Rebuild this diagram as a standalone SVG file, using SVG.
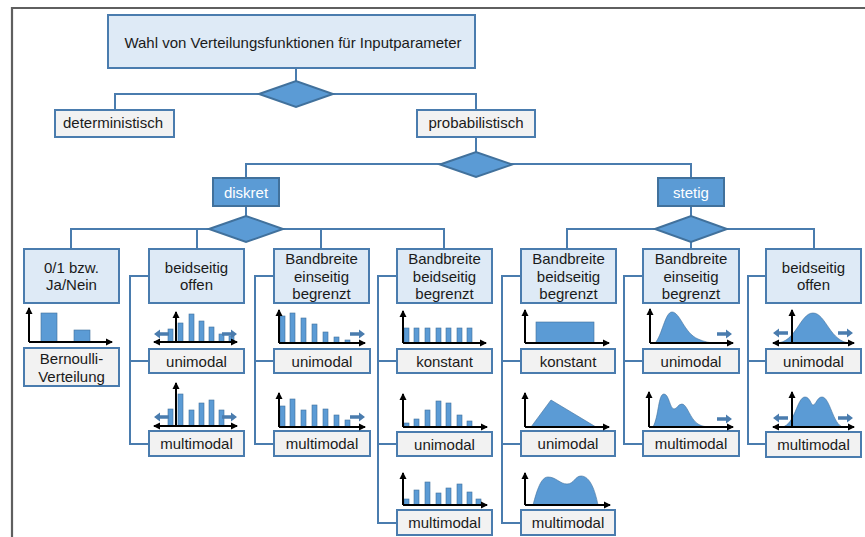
<svg xmlns="http://www.w3.org/2000/svg" xmlns:xlink="http://www.w3.org/1999/xlink" width="865" height="537" viewBox="0 0 865 537">
<style>
.box{fill:#deeaf6;stroke:#4a7cae;stroke-width:2}
.gbox{fill:#f2f2f2;stroke:#4a7cae;stroke-width:2}
.dark{fill:#5b9bd5;stroke:#41719c;stroke-width:2}
.conn{fill:none;stroke:#4a7cae;stroke-width:2}
.bar{fill:#5b9bd5;stroke:#41719c;stroke-width:0.6}
.area{fill:#5b9bd5;stroke:#41719c;stroke-width:0.6}
.ax{fill:none;stroke:#000;stroke-width:2;marker-end:url(#ah)}
.ax2{fill:none;stroke:#000;stroke-width:2;marker-end:url(#ah);marker-start:url(#ah)}
text{font-family:"Liberation Sans",Arial,sans-serif;font-size:15px;fill:#1a1a1a;text-anchor:middle}
.w{fill:#fff}
.barr{fill:#4a7cae}
</style>
<defs>
<marker id="ah" markerUnits="userSpaceOnUse" markerWidth="8" markerHeight="8" refX="6" refY="4" orient="auto-start-reverse"><path d="M0,0.5 L7,4 L0,7.5 z" fill="#000"/></marker>
<path id="ra" d="M0,-1.8 L9,-1.8 L9,-4.5 L15,0 L9,4.5 L9,1.8 L0,1.8 z" class="barr"/>
</defs>
<!-- frame -->
<path d="M12,537 L12,8 L865,8" fill="none" stroke="#5f5f5f" stroke-width="2.2"/>

<g id="connectors">
<path class="conn" d="M296,68 V81 M115,110 V94 H476 V110 M476,137 V152 M246,178 V164 H691 V178 M246,206 V216 M691,206 V216"/>
<path class="conn" d="M71,249 V229 H444 V249 M197,229 V249 M321,229 V249"/>
<path class="conn" d="M567,249 V229 H814 V249 M691,229 V249"/>
<path class="conn" d="M149,276 H130 V444 H149 M130,361 H149"/>
<path class="conn" d="M274,276 H255 V444 H274 M255,361 H274"/>
<path class="conn" d="M397,276 H378 V523 H397 M378,361 H397 M378,444 H397"/>
<path class="conn" d="M521,276 H502 V523 H521 M502,361 H521 M502,444 H521"/>
<path class="conn" d="M643,276 H624 V444 H643 M624,361 H643"/>
<path class="conn" d="M766,276 H748 V444 H766 M748,361 H766"/>
</g>

<g id="root"><rect class="box" x="108" y="15" width="367" height="53"/><text x="293" y="48">Wahl von Verteilungsfunktionen für Inputparameter</text></g>
<g id="d1"><polygon class="dark" points="259,94 296,81 333,94 296,107"/></g>
<g id="deterministisch"><rect class="gbox" x="55" y="110" width="119" height="27"/><text x="113" y="128">deterministisch</text></g>
<g id="probabilistisch"><rect class="gbox" x="417" y="110" width="118" height="27"/><text x="476" y="128">probabilistisch</text></g>
<g id="d2"><polygon class="dark" points="440,164.5 476,152 512,164.5 476,177"/></g>
<g id="diskret"><rect class="dark" x="213" y="178" width="66" height="28"/><text class="w" x="246" y="198">diskret</text></g>
<g id="stetig"><rect class="dark" x="658" y="178" width="66" height="28"/><text class="w" x="691" y="198">stetig</text></g>
<g id="d3"><polygon class="dark" points="209,229 246,216 283,229 246,242"/></g>
<g id="d4"><polygon class="dark" points="655,229 691,216 727,229 691,242"/></g>

<g id="n01"><rect class="box" x="24" y="249" width="95" height="54"/><text x="71.5" y="273">0/1 bzw.</text><text x="71.5" y="290">Ja/Nein</text></g>
<g id="nDoffen"><rect class="box" x="149" y="249" width="95" height="54"/><text x="196.5" y="273">beidseitig</text><text x="196.5" y="290">offen</text></g>
<g id="nDein"><rect class="box" x="274" y="249" width="95" height="54"/><text x="321.5" y="264">Bandbreite</text><text x="321.5" y="281.5">einseitig</text><text x="321.5" y="299">begrenzt</text></g>
<g id="nDbeid"><rect class="box" x="397" y="249" width="95" height="54"/><text x="444.5" y="264">Bandbreite</text><text x="444.5" y="281.5">beidseitig</text><text x="444.5" y="299">begrenzt</text></g>
<g id="nSbeid"><rect class="box" x="521" y="249" width="95" height="54"/><text x="568.5" y="264">Bandbreite</text><text x="568.5" y="281.5">beidseitig</text><text x="568.5" y="299">begrenzt</text></g>
<g id="nSein"><rect class="box" x="643" y="249" width="96" height="54"/><text x="691" y="264">Bandbreite</text><text x="691" y="281.5">einseitig</text><text x="691" y="299">begrenzt</text></g>
<g id="nSoffen"><rect class="box" x="766" y="249" width="95" height="54"/><text x="813.5" y="273">beidseitig</text><text x="813.5" y="290">offen</text></g>

<g id="bernoulli"><rect class="gbox" x="24" y="348" width="95" height="38"/><text x="71.5" y="364">Bernoulli-</text><text x="71.5" y="382">Verteilung</text></g>
<g id="dOffenUni"><rect class="gbox" x="149" y="349" width="95" height="24"/><text x="196.5" y="367">unimodal</text></g>
<g id="dOffenMulti"><rect class="gbox" x="149" y="431" width="95" height="25"/><text x="196.5" y="449">multimodal</text></g>
<g id="dEinUni"><rect class="gbox" x="274" y="349" width="96" height="24"/><text x="322" y="367">unimodal</text></g>
<g id="dEinMulti"><rect class="gbox" x="274" y="431" width="96" height="25"/><text x="322" y="449">multimodal</text></g>
<g id="dBeidKonst"><rect class="gbox" x="397" y="349" width="95" height="24"/><text x="444.5" y="367">konstant</text></g>
<g id="dBeidUni"><rect class="gbox" x="397" y="432" width="95" height="24"/><text x="444.5" y="450">unimodal</text></g>
<g id="dBeidMulti"><rect class="gbox" x="397" y="510" width="95" height="25"/><text x="444.5" y="528">multimodal</text></g>
<g id="sBeidKonst"><rect class="gbox" x="521" y="349" width="94" height="24"/><text x="568" y="367">konstant</text></g>
<g id="sBeidUni"><rect class="gbox" x="521" y="431" width="94" height="25"/><text x="568" y="449">unimodal</text></g>
<g id="sBeidMulti"><rect class="gbox" x="521" y="510" width="94" height="25"/><text x="568" y="528">multimodal</text></g>
<g id="sEinUni"><rect class="gbox" x="643" y="349" width="96" height="24"/><text x="691" y="367">unimodal</text></g>
<g id="sEinMulti"><rect class="gbox" x="643" y="431" width="96" height="25"/><text x="691" y="449">multimodal</text></g>
<g id="sOffenUni"><rect class="gbox" x="766" y="349" width="95" height="24"/><text x="813.5" y="367">unimodal</text></g>
<g id="sOffenMulti"><rect class="gbox" x="766" y="432" width="95" height="25"/><text x="813.5" y="450">multimodal</text></g>

<!-- charts -->
<g id="cBernoulli">
<rect class="bar" x="41" y="313" width="16" height="29"/><rect class="bar" x="74" y="330" width="16" height="12"/>
<path class="ax" d="M29,342 V308"/><path class="ax" d="M29,342 H112"/>
</g>
<g id="cDOffenUni">
<rect class="bar" x="168" y="329" width="5" height="13"/><rect class="bar" x="178" y="323" width="5" height="19"/><rect class="bar" x="189" y="314" width="5" height="28"/><rect class="bar" x="199" y="321" width="5" height="21"/><rect class="bar" x="209" y="327" width="5" height="15"/><rect class="bar" x="219" y="334" width="5" height="8"/><rect class="bar" x="229" y="336" width="5" height="6"/>
<use xlink:href="#ra" transform="translate(169,334) scale(-1,1)"/><use xlink:href="#ra" x="222" y="334"/>
<path class="ax2" d="M154,342 H237"/><path class="ax" d="M176,342 V312"/>
</g>
<g id="cDOffenMulti">
<rect class="bar" x="168" y="409" width="5" height="17"/><rect class="bar" x="178" y="394" width="5" height="32"/><rect class="bar" x="189" y="410" width="5" height="16"/><rect class="bar" x="199" y="403" width="5" height="23"/><rect class="bar" x="209" y="400" width="5" height="26"/><rect class="bar" x="219" y="410" width="5" height="16"/>
<use xlink:href="#ra" transform="translate(169,417) scale(-1,1)"/><use xlink:href="#ra" x="222" y="417"/>
<path class="ax2" d="M154,426 H237"/><path class="ax" d="M176,426 V383"/>
</g>
<g id="cDEinUni">
<rect class="bar" x="280" y="316" width="5" height="27"/><rect class="bar" x="290" y="313" width="5" height="30"/><rect class="bar" x="301" y="318" width="5" height="25"/><rect class="bar" x="312" y="324" width="5" height="19"/><rect class="bar" x="323" y="332" width="5" height="11"/><rect class="bar" x="334" y="337" width="5" height="6"/><rect class="bar" x="345" y="340" width="5" height="3"/>
<use xlink:href="#ra" x="350" y="334"/>
<path class="ax" d="M279,343 V310"/><path class="ax" d="M279,343 H365"/>
</g>
<g id="cDEinMulti">
<rect class="bar" x="280" y="406" width="5" height="21"/><rect class="bar" x="290" y="399" width="5" height="28"/><rect class="bar" x="301" y="410" width="5" height="17"/><rect class="bar" x="312" y="405" width="5" height="22"/><rect class="bar" x="323" y="409" width="5" height="18"/><rect class="bar" x="334" y="415" width="5" height="12"/><rect class="bar" x="345" y="420" width="5" height="7"/>
<use xlink:href="#ra" x="350" y="417"/>
<path class="ax" d="M279,427 V393"/><path class="ax" d="M279,427 H365"/>
</g>
<g id="cDBeidKonst">
<rect class="bar" x="404" y="328" width="5" height="15"/><rect class="bar" x="414" y="328" width="5" height="15"/><rect class="bar" x="425" y="328" width="5" height="15"/><rect class="bar" x="436" y="328" width="5" height="15"/><rect class="bar" x="446" y="328" width="5" height="15"/><rect class="bar" x="457" y="328" width="5" height="15"/><rect class="bar" x="467" y="328" width="5" height="15"/>
<path class="ax" d="M403,343 V311"/><path class="ax" d="M403,343 H486"/>
</g>
<g id="cDBeidUni">
<rect class="bar" x="404" y="423" width="5" height="4"/><rect class="bar" x="414" y="419" width="5" height="8"/><rect class="bar" x="425" y="410" width="5" height="17"/><rect class="bar" x="436" y="401" width="5" height="26"/><rect class="bar" x="446" y="403" width="5" height="24"/><rect class="bar" x="457" y="415" width="5" height="12"/><rect class="bar" x="467" y="421" width="5" height="6"/>
<path class="ax" d="M403,427 V394"/><path class="ax" d="M403,427 H487"/>
</g>
<g id="cDBeidMulti">
<rect class="bar" x="404" y="499" width="5" height="6"/><rect class="bar" x="414" y="490" width="5" height="15"/><rect class="bar" x="425" y="482" width="5" height="23"/><rect class="bar" x="436" y="493" width="5" height="12"/><rect class="bar" x="446" y="488" width="5" height="17"/><rect class="bar" x="457" y="484" width="5" height="21"/><rect class="bar" x="467" y="492" width="5" height="13"/><rect class="bar" x="476" y="499" width="5" height="6"/>
<path class="ax" d="M403,505 V473"/><path class="ax" d="M403,505 H487"/>
</g>
<g id="cSBeidKonst">
<rect class="area" x="536" y="322" width="58" height="21"/>
<path class="ax" d="M525,343 V310"/><path class="ax" d="M525,343 H609"/>
</g>
<g id="cSBeidUni">
<polygon class="area" points="531,427 551,400 596,427"/>
<path class="ax" d="M525,427 V393"/><path class="ax" d="M525,427 H609"/>
</g>
<g id="cSBeidMulti">
<path class="area" d="M533,505 C537,490 541,477 548,477 C556,477 560,484 567,484 C574,484 575,476 581,476 C590,476 595,490 598,505 Z"/>
<path class="ax" d="M525,505 V473"/><path class="ax" d="M525,505 H610"/>
</g>
<g id="cSEinUni">
<path class="area" d="M655,343 C662,336 665,312 672,312 C680,312 684,333 698,339 C705,342 710,343 716,343 Z"/>
<use xlink:href="#ra" x="717" y="334"/>
<path class="ax" d="M650,343 V309"/><path class="ax" d="M650,343 H733"/>
</g>
<g id="cSEinMulti">
<path class="area" d="M653,427 C659,416 658,394 664,394 C669,394 670,409 674,409 C677,409 678,404 682,404 C687,404 690,419 698,424 C703,427 708,427 714,427 Z"/>
<use xlink:href="#ra" x="717" y="419"/>
<path class="ax" d="M649,427 V392"/><path class="ax" d="M649,427 H733"/>
</g>
<g id="cSOffenUni">
<path class="area" d="M776,343 C796,343 800,313 813,313 C826,313 830,343 851,343 Z"/>
<use xlink:href="#ra" transform="translate(788,333) scale(-1,1)"/><use xlink:href="#ra" x="838" y="333"/>
<path class="ax2" d="M773,343 H854"/><path class="ax" d="M792,343 V310"/>
</g>
<g id="cSOffenMulti">
<path class="area" d="M782,427 C795,425 797,397 805,397 C810,397 811,405 813,405 C816,405 817,397 822,397 C830,397 833,425 843,427 Z"/>
<use xlink:href="#ra" transform="translate(788,418) scale(-1,1)"/><use xlink:href="#ra" x="838" y="418"/>
<path class="ax2" d="M773,427 H854"/><path class="ax" d="M792,427 V392"/>
</g>
</svg>
